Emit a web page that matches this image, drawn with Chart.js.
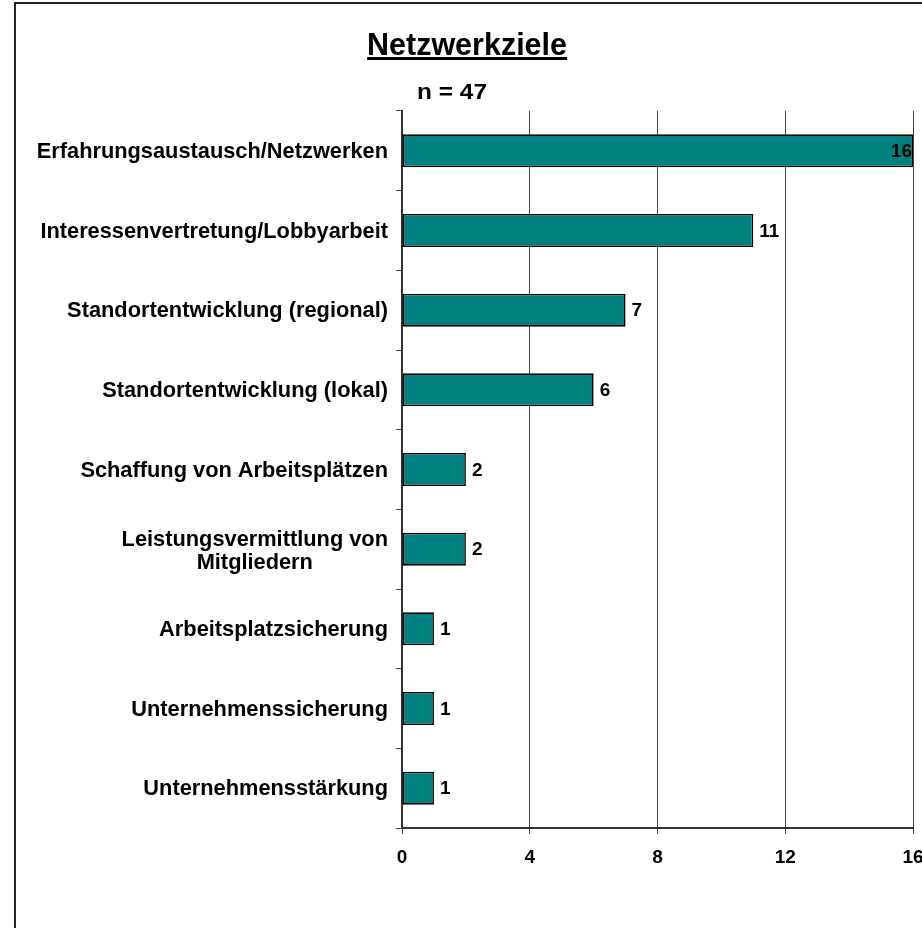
<!DOCTYPE html>
<html>
<head>
<meta charset="utf-8">
<title>Netzwerkziele</title>
<script src="https://cdn.jsdelivr.net/npm/chart.js@4/dist/chart.umd.min.js"></script>
<style>
  html, body { margin: 0; padding: 0; background: #fff; overflow: hidden; }
  #frame { position: absolute; left: 14px; top: 2px; width: 1000px; height: 1000px; border: 2px solid #222; }
  #netzGraph { position: absolute; left: 0; top: 0; }
</style>
</head>
<body>
<div id="frame"></div>
<canvas id="netzGraph" width="922" height="928"></canvas>
<script>
// Netzwerkziele - Anzahl der Nennungen (n = 47)
var zielLabels = [
    "Erfahrungsaustausch/Netzwerken",
    "Interessenvertretung/Lobbyarbeit",
    "Standortentwicklung (regional)",
    "Standortentwicklung (lokal)",
    "Schaffung von Arbeitsplätzen",
    ["Leistungsvermittlung von", "Mitgliedern"],
    "Arbeitsplatzsicherung",
    "Unternehmenssicherung",
    "Unternehmensstärkung"
];
var zielWerte = [16, 11, 7, 6, 2, 2, 1, 1, 1];
var achsenTicks = [0, 4, 8, 12, 16];

var titelText = "Netzwerkziele";
var untertitelText = "n = 47";

var FONT = '"Liberation Sans", Arial, Helvetica, sans-serif';

// narrow text: squeeze horizontally into a given width
function drawSqueezed(ctx, text, x, y, width) {
    var w = ctx.measureText(text).width;
    ctx.save();
    ctx.translate(x, y);
    ctx.scale(width / w, 1);
    ctx.textAlign = "left";
    ctx.fillText(text, 0, 0);
    ctx.restore();
}

var titlePlugin = {
    id: 'titelUnterstrichen',
    afterDraw: function(chart) {
        var ctx = chart.ctx;
        ctx.save();
        ctx.fillStyle = "#000";
        ctx.textBaseline = "alphabetic";
        ctx.font = "bold 31px " + FONT;
        drawSqueezed(ctx, titelText, 367, 55, 200);
        ctx.fillRect(367, 57, 200, 3);
        ctx.font = "bold 22px " + FONT;
        drawSqueezed(ctx, untertitelText, 417, 99, 70);
        ctx.restore();
    }
};

// category names left of the axis, multi-line entries centred as a block
var yLabelPlugin = {
    id: 'kategorien',
    afterDraw: function(chart) {
        var ctx = chart.ctx;
        var yScale = chart.scales.y;
        var rightEdge = chart.chartArea.left - 14;
        ctx.save();
        ctx.fillStyle = "#000";
        ctx.font = "bold 21.8px " + FONT;
        ctx.textBaseline = "middle";
        zielLabels.forEach(function(lab, i) {
            var y = yScale.getPixelForTick(i);
            if (Array.isArray(lab)) {
                var maxW = 0;
                lab.forEach(function(l) { maxW = Math.max(maxW, ctx.measureText(l).width); });
                var cx = rightEdge - maxW / 2;
                var lh = 23;
                var y0 = y - (lab.length - 1) * lh / 2 + 2;
                ctx.textAlign = "center";
                lab.forEach(function(l, k) { ctx.fillText(l, cx, y0 + k * lh); });
            } else {
                ctx.textAlign = "right";
                ctx.fillText(lab, rightEdge, y + 1);
            }
        });
        ctx.restore();
    }
};

// value next to each bar end
var valuePlugin = {
    id: 'werte',
    afterDatasetsDraw: function(chart) {
        var ctx = chart.ctx;
        var meta = chart.getDatasetMeta(0);
        ctx.save();
        ctx.fillStyle = "#000";
        ctx.font = "bold 19px " + FONT;
        ctx.textBaseline = "middle";
        meta.data.forEach(function(bar, i) {
            var txt = String(zielWerte[i]);
            var w = ctx.measureText(txt).width;
            if (bar.x + 6 + w > chart.width) {
                ctx.textAlign = "right";
                ctx.fillText(txt, bar.x - 1, bar.y + 1);
            } else {
                ctx.textAlign = "left";
                ctx.fillText(txt, bar.x + 6, bar.y + 1);
            }
        });
        ctx.restore();
    }
};

var netzConfig = {
    type: 'bar',
    data: {
        labels: zielLabels,
        datasets: [{
            data: zielWerte,
            backgroundColor: "#008080",
            borderColor: "#000",
            borderWidth: 1.6,
            borderSkipped: false,
            barPercentage: 0.414,
            categoryPercentage: 1.0
        }]
    },
    options: {
        indexAxis: 'y',
        responsive: false,
        animation: false,
        layout: {
            padding: { top: 111, right: 9, bottom: 0, left: 0 }
        },
        scales: {
            x: {
                min: 0,
                max: 16,
                afterBuildTicks: function(scale) {
                    scale.ticks = achsenTicks.map(function(v) { return { value: v }; });
                },
                afterFit: function(scale) {
                    scale.height = 100;
                    scale.paddingLeft = 0;
                    scale.paddingRight = 0;
                },
                grid: {
                    color: "#444",
                    lineWidth: 1,
                    tickLength: 6,
                    tickColor: "#444"
                },
                border: { display: true, color: "#333", width: 2 },
                ticks: {
                    color: "#000",
                    padding: 12,
                    maxRotation: 0,
                    font: { family: FONT, size: 19, weight: 'bold' }
                }
            },
            y: {
                afterFit: function(scale) {
                    scale.width = 402;
                },
                grid: {
                    drawOnChartArea: false,
                    drawTicks: true,
                    tickLength: 6,
                    color: "#444",
                    offset: true
                },
                border: { display: true, color: "#333", width: 2 },
                ticks: { display: false }
            }
        },
        plugins: {
            legend: { display: false },
            tooltip: { enabled: false },
            title: { display: false }
        }
    },
    plugins: [titlePlugin, yLabelPlugin, valuePlugin]
};

var netzCtx = document.getElementById("netzGraph");
var netzChart = new Chart(netzCtx, netzConfig);
</script>
</body>
</html>
